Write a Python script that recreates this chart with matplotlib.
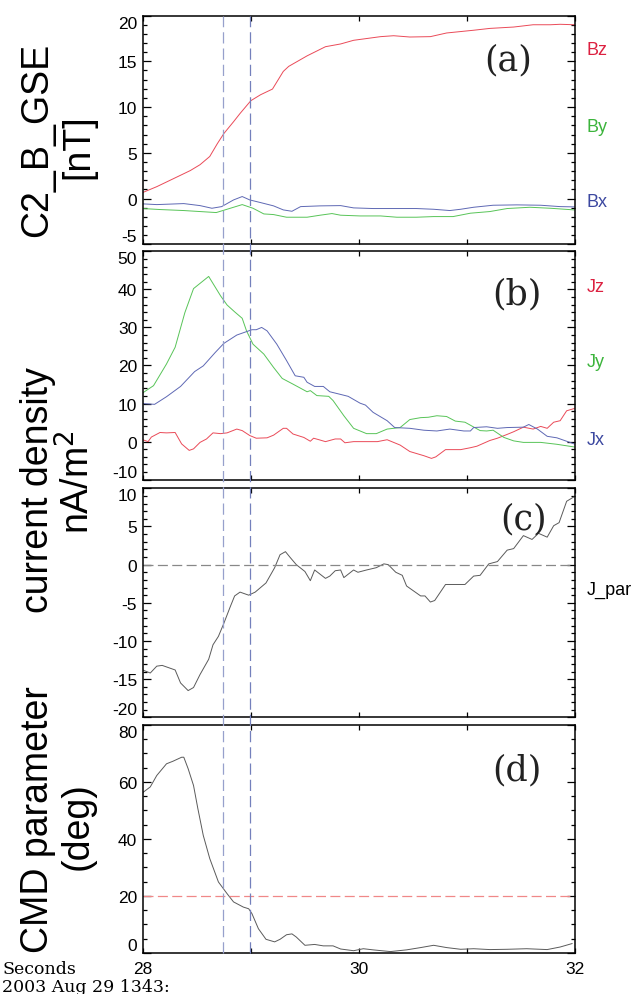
import matplotlib
matplotlib.use('Agg')
import matplotlib.pyplot as plt
from matplotlib.ticker import MultipleLocator, FixedLocator, FixedFormatter
from matplotlib.lines import Line2D
from matplotlib.transforms import blended_transform_factory

plt.rcParams['font.family'] = ['Liberation Sans', 'DejaVu Sans']
plt.rcParams['axes.unicode_minus'] = False

# ---- data (seconds after 2003-08-29 13:43) ----
t_bz = [28.00, 28.13, 28.28, 28.44, 28.53, 28.62, 28.69, 28.75, 28.84, 28.90,
        29.00, 29.09, 29.20, 29.30, 29.35, 29.52, 29.69, 29.83, 29.95, 30.20,
        30.32, 30.47, 30.66, 30.81, 31.06, 31.21, 31.43, 31.61, 31.77, 31.86, 31.99]
bz = [0.66, 1.3, 2.15, 3.06, 3.7, 4.6, 6.0, 7.1, 8.4, 9.3,
      10.7, 11.35, 11.97, 13.9, 14.45, 15.6, 16.6, 16.9, 17.3, 17.7,
      17.8, 17.66, 17.7, 18.1, 18.4, 18.6, 18.75, 19.0, 19.0, 19.05, 19.0]

t_bx = [28.00, 28.13, 28.38, 28.53, 28.64, 28.73, 28.84, 28.92, 28.99, 29.09,
        29.21, 29.30, 29.38, 29.46, 29.64, 29.83, 29.95, 30.13, 30.32, 30.53,
        30.69, 30.84, 30.94, 31.06, 31.24, 31.46, 31.68, 31.86, 31.99]
bx = [-0.58, -0.66, -0.55, -0.77, -1.06, -0.88, -0.15, 0.22, -0.15, -0.44,
      -0.8, -1.24, -1.39, -0.88, -0.8, -0.77, -1.02, -1.09, -1.09, -1.09,
      -1.17, -1.31, -1.17, -0.95, -0.73, -0.69, -0.73, -0.88, -0.91]

t_by = [28.00, 28.16, 28.38, 28.53, 28.68, 28.81, 28.92, 29.02, 29.12, 29.21,
        29.33, 29.52, 29.64, 29.75, 29.83, 30.01, 30.20, 30.35, 30.53, 30.69,
        30.87, 31.03, 31.21, 31.37, 31.58, 31.77, 31.99]
by = [-1.09, -1.2, -1.31, -1.42, -1.53, -1.06, -0.66, -1.06, -1.68, -1.75,
      -2.04, -2.04, -1.82, -1.64, -1.82, -1.9, -1.9, -2.04, -2.04, -1.97,
      -1.97, -1.6, -1.42, -1.09, -0.95, -1.06, -1.24]

t_jx = [28.00, 28.11, 28.22, 28.35, 28.48, 28.56, 28.67, 28.75, 28.87, 28.96,
        29.01, 29.05, 29.10, 29.15, 29.24, 29.33, 29.41, 29.49, 29.52, 29.59,
        29.67, 29.73, 29.83, 29.90, 30.01, 30.06, 30.13, 30.26, 30.33, 30.47,
        30.60, 30.72, 30.84, 30.97, 31.03, 31.06, 31.18, 31.28, 31.37, 31.52,
        31.57, 31.65, 31.74, 31.83, 31.99]
jx = [10.0, 9.8, 11.8, 14.5, 18.4, 19.9, 23.4, 25.8, 28.0, 28.9,
      29.4, 29.4, 30.0, 29.1, 25.6, 21.3, 17.3, 16.9, 15.6, 14.5,
      14.5, 13.1, 12.4, 11.9, 10.1, 9.6, 7.7, 5.5, 3.7, 3.5,
      3.0, 2.8, 3.3, 2.8, 2.8, 3.7, 3.9, 3.5, 3.7, 3.8,
      4.5, 3.3, 1.4, 1.0, -0.6]

t_jy = [28.00, 28.10, 28.22, 28.30, 28.39, 28.47, 28.61, 28.72, 28.78, 28.85,
        28.92, 28.96, 29.02, 29.12, 29.21, 29.29, 29.39, 29.52, 29.55, 29.61,
        29.72, 29.76, 29.86, 29.95, 30.07, 30.16, 30.26, 30.38, 30.47, 30.57,
        30.64, 30.72, 30.81, 30.89, 30.98, 31.12, 31.18, 31.24, 31.34, 31.43,
        31.52, 31.68, 31.83, 31.99]
jy = [12.8, 14.7, 20.4, 24.8, 33.9, 40.2, 43.4, 38.3, 35.9, 34.1,
      32.4, 29.1, 25.6, 23.0, 19.5, 16.6, 15.1, 13.1, 13.4, 12.1,
      11.9, 10.8, 6.8, 3.5, 2.1, 2.1, 3.3, 3.7, 5.8, 6.3,
      6.4, 6.8, 6.6, 5.4, 5.1, 2.9, 2.8, 3.0, 1.1, 0.2,
      -0.2, -0.2, -0.7, -1.4]

t_jz = [28.00, 28.05, 28.08, 28.16, 28.22, 28.30, 28.36, 28.43, 28.47, 28.53,
        28.59, 28.65, 28.72, 28.78, 28.87, 28.92, 28.99, 29.05, 29.15, 29.21,
        29.30, 29.33, 29.39, 29.49, 29.55, 29.58, 29.63, 29.69, 29.78, 29.83,
        29.87, 29.95, 30.04, 30.17, 30.26, 30.38, 30.47, 30.60, 30.67, 30.71,
        30.80, 30.94, 31.03, 31.09, 31.21, 31.28, 31.37, 31.43, 31.52, 31.61,
        31.68, 31.74, 31.80, 31.86, 31.92, 31.99]
jz = [0.5, 0.0, 1.2, 2.4, 2.3, 2.4, -0.6, -2.3, -1.9, -0.2,
      0.7, 2.3, 2.1, 2.3, 3.3, 2.9, 1.6, 0.9, 1.0, 1.7,
      3.5, 3.5, 2.0, 1.1, 0.1, 0.9, 0.5, 0.0, 0.7, 0.7,
      -0.3, 0.0, 0.0, 0.0, 0.5, -0.9, -2.6, -3.7, -4.4, -4.0,
      -2.1, -2.1, -1.6, -1.2, 0.3, 0.9, 1.9, 2.6, 3.8, 3.3,
      4.0, 3.5, 5.1, 5.5, 8.1, 8.7]

t_jpar = [28.00, 28.07, 28.13, 28.18, 28.30, 28.35, 28.42, 28.47, 28.53, 28.61,
          28.65, 28.70, 28.75, 28.81, 28.85, 28.90, 28.98, 29.04, 29.14, 29.22,
          29.27, 29.32, 29.36, 29.42, 29.50, 29.55, 29.59, 29.69, 29.73, 29.78,
          29.83, 29.86, 29.95, 29.99, 30.07, 30.16, 30.23, 30.27, 30.34, 30.40,
          30.44, 30.57, 30.61, 30.66, 30.70, 30.80, 30.86, 30.98, 31.06, 31.12,
          31.20, 31.28, 31.37, 31.43, 31.52, 31.60, 31.66, 31.74, 31.80, 31.85,
          31.92, 31.99]
jpar = [-13.8, -14.2, -13.3, -13.2, -13.8, -15.5, -16.5, -16.1, -14.4, -12.4,
        -10.5, -9.4, -7.7, -5.5, -4.1, -3.6, -4.0, -3.6, -2.4, -0.4,
        1.3, 1.7, 1.0, 0.0, -0.9, -2.1, -0.7, -1.8, -1.5, -0.8,
        -0.7, -1.7, -0.7, -1.0, -0.7, -0.4, 0.1, 0.0, -1.0, -1.4,
        -2.8, -4.1, -4.1, -4.9, -4.7, -2.6, -2.6, -2.6, -1.5, -1.4,
        0.1, 0.4, 1.9, 2.1, 3.8, 3.3, 4.1, 3.6, 5.1, 5.5,
        8.3, 8.9]

t_cmd = [28.00, 28.07, 28.13, 28.22, 28.28, 28.36, 28.38, 28.42, 28.47, 28.51,
         28.56, 28.62, 28.70, 28.78, 28.84, 28.93, 28.98, 29.01, 29.07, 29.14,
         29.22, 29.27, 29.33, 29.38, 29.42, 29.50, 29.59, 29.67, 29.76, 29.83,
         29.95, 30.04, 30.13, 30.29, 30.44, 30.57, 30.69, 30.81, 30.94, 31.06,
         31.21, 31.37, 31.55, 31.74, 31.86, 31.97]
cmd = [56.2, 58.2, 62.2, 66.3, 67.2, 68.6, 68.6, 64.6, 58.7, 50.6,
       41.2, 33.1, 24.9, 20.8, 17.9, 16.1, 15.5, 13.8, 8.5, 4.8,
       3.9, 4.8, 6.4, 6.7, 5.6, 2.7, 3.0, 2.5, 2.5, 1.4,
       0.8, 1.5, 1.1, 0.5, 1.1, 1.9, 2.7, 1.9, 1.3, 1.5,
       1.2, 1.3, 1.5, 1.2, 2.1, 3.3]

t_marks = [28.746, 28.996]
xtick_labels = ['28', '', '30', '', '32']

W, H = 636.0, 995.0
fig = plt.figure(figsize=(W / 100, H / 100), dpi=100)

def px_axes(top, bottom):
    return [142.7 / W, 1 - bottom / H, 432.6 / W, (bottom - top) / H]

ax_a = fig.add_axes(px_axes(16.6, 245.3))
ax_b = fig.add_axes(px_axes(252.3, 480.7), sharex=ax_a)
ax_c = fig.add_axes(px_axes(489.3, 718.3), sharex=ax_a)
ax_d = fig.add_axes(px_axes(725.7, 954.0), sharex=ax_a)

red, green, blue = '#ea4a58', '#58c458', '#5e68b4'
lw = 0.7
ax_a.plot(t_bz, bz, color=red, lw=lw)
ax_a.plot(t_by, by, color=green, lw=lw)
ax_a.plot(t_bx, bx, color=blue, lw=lw)
ax_b.plot(t_jz, jz, color=red, lw=lw)
ax_b.plot(t_jy, jy, color=green, lw=lw)
ax_b.plot(t_jx, jx, color=blue, lw=lw)
ax_c.plot(t_jpar, jpar, color='#5a5a5a', lw=lw)
ax_d.plot(t_cmd, cmd, color='#5a5a5a', lw=lw)

ax_c.axhline(0, color='#888888', lw=0.9, dashes=(8, 3.5))
ax_d.axhline(20, color='#f08888', lw=0.9, dashes=(8, 3.5))

limits = [(-5, 20, 5, 1), (-10, 50, 10, 2), (-20, 10, 5, 1), (0, 80, 20, 5)]
for ax, (lo, hi, maj, mnr) in zip([ax_a, ax_b, ax_c, ax_d], limits):
    ax.set_ylim(lo, hi)
    ax.set_xlim(28, 32)
    ax.set_yticks(list(range(lo, hi + 1, maj)))
    ax.yaxis.set_minor_locator(MultipleLocator(mnr))
    ax.xaxis.set_major_locator(FixedLocator([28, 29, 30, 31, 32]))
    ax.xaxis.set_major_formatter(FixedFormatter(xtick_labels))
    ax.tick_params(axis='y', which='major', direction='in', length=5.5, width=0.9,
                   right=True, labelsize=12.5, pad=4)
    ax.tick_params(axis='y', which='minor', direction='in', length=2.7, width=0.9, right=True)
    ax.tick_params(axis='x', which='major', direction='in', length=3.3, width=0.9,
                   top=True, labelsize=12.5, pad=6)
    for s in ax.spines.values():
        s.set_linewidth(1.1)
    if ax is not ax_d:
        ax.tick_params(axis='x', labelbottom=False)
    # end labels kept inside the panel, as IDL does
    yt = ax.yaxis.get_major_ticks()
    yt[0].label1.set_verticalalignment('bottom')
    yt[-1].label1.set_verticalalignment('top')

# vertical dashed marks through all panels
tr = blended_transform_factory(ax_a.transData, fig.transFigure)
for t, c in zip(t_marks, ['#97a0cc', '#7480bc']):
    fig.add_artist(Line2D([t, t], [1 - 954.0 / H, 1 - 16.6 / H], transform=tr,
                          color=c, lw=0.9, dashes=(9, 4)))

def ftext(x, y, s, **kw):
    fig.text(x / W, 1 - y / H, s, **kw)

# panel letters
for (x, y), s in zip([(508, 60), (517, 294), (524, 519), (517, 770)],
                     ['(a)', '(b)', '(c)', '(d)']):
    ftext(x, y, s, family='DejaVu Serif', fontsize=25, ha='center', va='center',
          color='#222222')

# component labels on the right
right_labels = [('Bz', 55, '#dc2040'), ('By', 132, '#3cb43c'), ('Bx', 207, '#3c48a0'),
                ('Jz', 292, '#dc2040'), ('Jy', 367, '#3cb43c'), ('Jx', 445, '#3c48a0'),
                ('J_par', 595, 'black')]
for s, y, c in right_labels:
    ftext(587, y, s, color=c, fontsize=13, ha='left', va='baseline')

# y titles
ytitle = dict(rotation=90, ha='center', va='center', fontsize=27)
ftext(37, 140, 'C2_B_GSE', **ytitle)
ftext(78, 147, '[nT]', **ytitle)
ftext(38, 490, 'current density', **ytitle)
ftext(78, 482, 'nA/m$^2$', **ytitle)
ftext(38, 820, 'CMD parameter', **ytitle)
ftext(78, 826, '(deg)', **ytitle)

# time annotation
ftext(2, 974.5, 'Seconds', family='DejaVu Serif', fontsize=12.5, ha='left', va='baseline')
ftext(2, 992, '2003 Aug 29 1343:', family='DejaVu Serif', fontsize=12.5,
      ha='left', va='baseline')

fig.savefig('out.png', dpi=100)
